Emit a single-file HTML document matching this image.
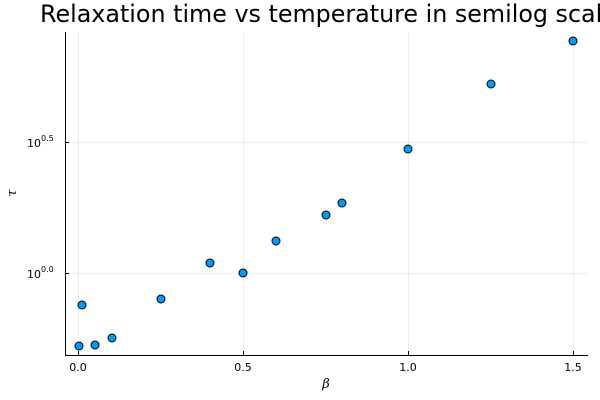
<!DOCTYPE html>
<html><head><meta charset="utf-8"><style>
html,body{margin:0;padding:0;background:#fff;}
svg{display:block;}
</style></head><body>
<svg width="600" height="400" xmlns="http://www.w3.org/2000/svg" font-family="'DejaVu Sans','Liberation Sans',sans-serif">
<rect width="600" height="400" fill="#fff"/>
<g stroke="#000" stroke-opacity="0.07" stroke-width="1">
<line x1="78.5" y1="32" x2="78.5" y2="355"/>
<line x1="243.5" y1="32" x2="243.5" y2="355"/>
<line x1="408.5" y1="32" x2="408.5" y2="355"/>
<line x1="573.5" y1="32" x2="573.5" y2="355"/>
<line x1="65" y1="142.5" x2="588" y2="142.5"/>
<line x1="65" y1="273.5" x2="588" y2="273.5"/>
</g>
<g stroke="#000" stroke-width="1">
<line x1="65.5" y1="32" x2="65.5" y2="355.5"/>
<line x1="65" y1="355.5" x2="588" y2="355.5"/>
<line x1="78.5" y1="355" x2="78.5" y2="351"/>
<line x1="243.5" y1="355" x2="243.5" y2="351"/>
<line x1="408.5" y1="355" x2="408.5" y2="351"/>
<line x1="573.5" y1="355" x2="573.5" y2="351"/>
<line x1="65" y1="142.5" x2="69" y2="142.5"/>
<line x1="65" y1="273.5" x2="69" y2="273.5"/>
</g>
<g font-size="11" fill="#000" text-anchor="middle">
<text x="78" y="371">0.0</text>
<text x="243" y="371">0.5</text>
<text x="408" y="371">1.0</text>
<text x="573" y="371">1.5</text>
</g>
<g font-size="11" fill="#000">
<text x="41" y="147" text-anchor="end">10</text><text x="41" y="141" font-size="8">0.5</text>
<text x="41" y="278" text-anchor="end">10</text><text x="41" y="272" font-size="8">0.0</text>
</g>
<text x="326" y="388" font-size="13" font-style="italic" font-family="'DejaVu Serif',serif" text-anchor="middle">β</text>
<text x="16" y="193" font-size="13" font-style="italic" font-family="'DejaVu Serif',serif" text-anchor="middle" transform="rotate(-90 16 193)">τ</text>
<text x="40" y="22" font-size="23.8" fill="#000">Relaxation time vs temperature in semilog scale</text>
<g fill="#009af9" stroke="#000" stroke-width="1">
<circle cx="79" cy="346" r="4"/>
<circle cx="82" cy="305" r="4"/>
<circle cx="95" cy="345" r="4"/>
<circle cx="112" cy="338" r="4"/>
<circle cx="161" cy="299" r="4"/>
<circle cx="210" cy="263" r="4"/>
<circle cx="243" cy="273" r="4"/>
<circle cx="276" cy="241" r="4"/>
<circle cx="326" cy="215" r="4"/>
<circle cx="342" cy="203" r="4"/>
<circle cx="408" cy="149" r="4"/>
<circle cx="491" cy="84" r="4"/>
<circle cx="573" cy="41" r="4"/>
</g>
</svg>
</body></html>
